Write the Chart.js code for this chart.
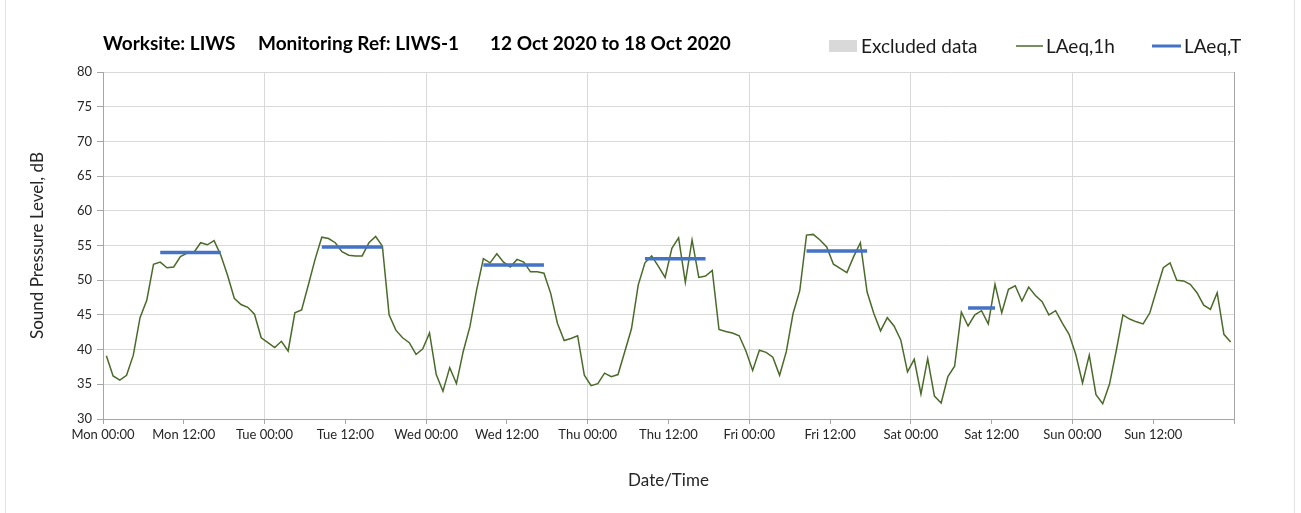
<!DOCTYPE html>
<html>
<head>
<meta charset="utf-8">
<script src="https://cdn.jsdelivr.net/npm/chart.js@4"></script>
<style>
  html, body { margin: 0; padding: 0; background: #fff; }
  #wrap { position: relative; width: 1301px; height: 513px; }
  #wrap:before, #wrap:after { content: ''; position: absolute; top: 0; bottom: 0; width: 1px; background: #e3e3e3; }
  #wrap:before { left: 5px; }
  #wrap:after { left: 1294px; }
</style>
</head>
<body>
<div id="wrap"><canvas id="chart" width="1301" height="513"></canvas></div>
<script>
// hourly LAeq,1h, Mon 00:00 .. Sun 23:00
const laeq1h = [
  39.1, 36.2, 35.6, 36.3, 39.2, 44.6, 47.1, 52.3, 52.6, 51.8, 51.9, 53.4, 53.9, 54.0, 55.4, 55.1, 55.7, 53.6, 50.7, 47.4, 46.5, 46.1, 45.1, 41.7,
  41.0, 40.3, 41.2, 39.8, 45.3, 45.7, 49.3, 53.0, 56.2, 56.0, 55.4, 54.1, 53.6, 53.5, 53.5, 55.4, 56.3, 54.9, 45.0, 42.8, 41.7, 41.0, 39.3, 40.1,
  42.4, 36.4, 34.0, 37.4, 35.1, 39.7, 43.3, 48.6, 53.1, 52.5, 53.8, 52.6, 51.9, 53.0, 52.6, 51.2, 51.2, 51.0, 48.1, 43.8, 41.3, 41.6, 42.0, 36.3,
  34.8, 35.1, 36.6, 36.1, 36.4, 39.7, 43.0, 49.3, 52.5, 53.5, 52.0, 50.4, 54.6, 56.1, 49.7, 55.8, 50.4, 50.6, 51.4, 42.9, 42.6, 42.4, 42.0, 39.8,
  37.0, 39.9, 39.6, 38.9, 36.3, 39.7, 45.2, 48.5, 56.5, 56.6, 55.8, 54.8, 52.3, 51.7, 51.1, 53.4, 55.4, 48.3, 45.2, 42.7, 44.6, 43.4, 41.4, 36.8,
  38.6, 33.6, 38.7, 33.3, 32.3, 36.1, 37.6, 45.4, 43.4, 45.0, 45.6, 43.7, 49.4, 45.3, 48.7, 49.2, 47.0, 49.0, 47.8, 46.9, 45.0, 45.6, 43.8, 42.2,
  39.3, 35.2, 39.2, 33.5, 32.2, 35.0, 39.8, 45.0, 44.4, 44.0, 43.7, 45.3, 48.6, 51.8, 52.5, 50.0, 49.9, 49.4, 48.2, 46.4, 45.8, 48.2, 42.2, 41.1
];

// LAeq,T per day (Mon..Sat), period given as first/last hour of the day
const laeqT = [54.0, 54.8, 52.2, 53.1, 54.2, 46.0];
const periodFirst = [8, 8, 8, 8, 8, 8];
const periodLast = [17, 17, 17, 17, 17, 12];

const tickLabels = [
  'Mon 00:00', 'Mon 12:00', 'Tue 00:00', 'Tue 12:00', 'Wed 00:00', 'Wed 12:00', 'Thu 00:00',
  'Thu 12:00', 'Fri 00:00', 'Fri 12:00', 'Sat 00:00', 'Sat 12:00', 'Sun 00:00', 'Sun 12:00'
];
const yMin = 30, yMax = 80, yStep = 5;

const FONT = 'Lato, "Open Sans", sans-serif';

const hourlyPts = laeq1h.map((v, i) => ({ x: i + 0.5, y: v }));
const periodPts = [];
laeqT.forEach((v, d) => {
  periodPts.push({ x: d * 24 + periodFirst[d] + 0.5, y: v });
  periodPts.push({ x: d * 24 + periodLast[d] + 0.5, y: v });
  periodPts.push({ x: d * 24 + periodLast[d] + 1, y: null });
});

const decor = {
  id: 'decor',
  afterDraw(chart) {
    const ctx = chart.ctx;
    const area = chart.chartArea;
    ctx.save();
    // title
    ctx.fillStyle = '#000';
    ctx.font = 'bold 19px ' + FONT;
    ctx.textBaseline = 'middle';
    ctx.textAlign = 'left';
    ctx.fillText('Worksite: LIWS', 103, 44);
    ctx.fillText('Monitoring Ref: LIWS-1', 258, 44);
    ctx.fillText('12 Oct 2020 to 18 Oct 2020', 490, 44);

    // legend
    ctx.font = '19px ' + FONT;
    ctx.fillStyle = '#d9d9d9';
    ctx.fillRect(829, 40, 28, 12);
    ctx.fillStyle = '#1a1a1a';
    ctx.fillText('Excluded data', 861, 47);
    ctx.strokeStyle = '#4a6a2a';
    ctx.lineWidth = 1.5;
    ctx.beginPath(); ctx.moveTo(1016, 46); ctx.lineTo(1043, 46); ctx.stroke();
    ctx.fillText('LAeq,1h', 1046, 47);
    ctx.strokeStyle = '#4472c4';
    ctx.lineWidth = 3;
    ctx.beginPath(); ctx.moveTo(1152, 46); ctx.lineTo(1181, 46); ctx.stroke();
    ctx.fillText('LAeq,T', 1184, 47);

    // axis titles
    ctx.font = '17px ' + FONT;
    ctx.fillStyle = '#262626';
    ctx.textAlign = 'center';
    ctx.fillText('Date/Time', (area.left + area.right) / 2, 481);
    ctx.translate(38, (area.top + area.bottom) / 2);
    ctx.rotate(-Math.PI / 2);
    ctx.fillText('Sound Pressure Level, dB', 0, 0);
    ctx.restore();
  }
};

new Chart(document.getElementById('chart'), {
  type: 'line',
  data: {
    datasets: [
      {
        label: 'LAeq,1h',
        data: hourlyPts,
        borderColor: '#4a6a2a',
        borderWidth: 1.5,
        pointRadius: 0,
        tension: 0,
        order: 2
      },
      {
        label: 'LAeq,T',
        data: periodPts,
        borderColor: '#4472c4',
        borderWidth: 3.5,
        pointRadius: 0,
        spanGaps: false,
        order: 1
      }
    ]
  },
  options: {
    responsive: false,
    animation: false,
    layout: { padding: { top: 72, right: 67, left: 0, bottom: 0 } },
    plugins: {
      legend: { display: false },
      title: { display: false },
      tooltip: { enabled: false }
    },
    scales: {
      x: {
        type: 'linear',
        min: 0,
        max: 168,
        afterFit: (s) => { s.height = 94; },
        afterBuildTicks: (s) => {
          s.ticks = [];
          for (let v = 0; v <= 168; v += 12) s.ticks.push({ value: v });
        },
        ticks: {
          autoSkip: false,
          maxRotation: 0,
          padding: 3,
          color: '#262626',
          font: { family: FONT, size: 13 },
          callback: (v) => tickLabels[v / 12] || ''
        },
        grid: {
          color: (c) => c.tick.value === 168 ? '#a6a6a6' : (c.tick.value % 24 === 0 ? '#d9d9d9' : 'rgba(0,0,0,0)'),
          tickColor: '#a6a6a6',
          tickLength: 5,
          lineWidth: 1
        },
        border: { color: '#a6a6a6' }
      },
      y: {
        min: yMin,
        max: yMax,
        afterFit: (s) => { s.width = 103; },
        ticks: {
          stepSize: yStep,
          padding: 5,
          color: '#262626',
          font: { family: FONT, size: 13 }
        },
        grid: {
          color: '#d9d9d9',
          tickColor: '#a6a6a6',
          tickLength: 6,
          lineWidth: 1
        },
        border: { color: '#a6a6a6' }
      }
    }
  },
  plugins: [decor]
});
</script>
</body>
</html>
